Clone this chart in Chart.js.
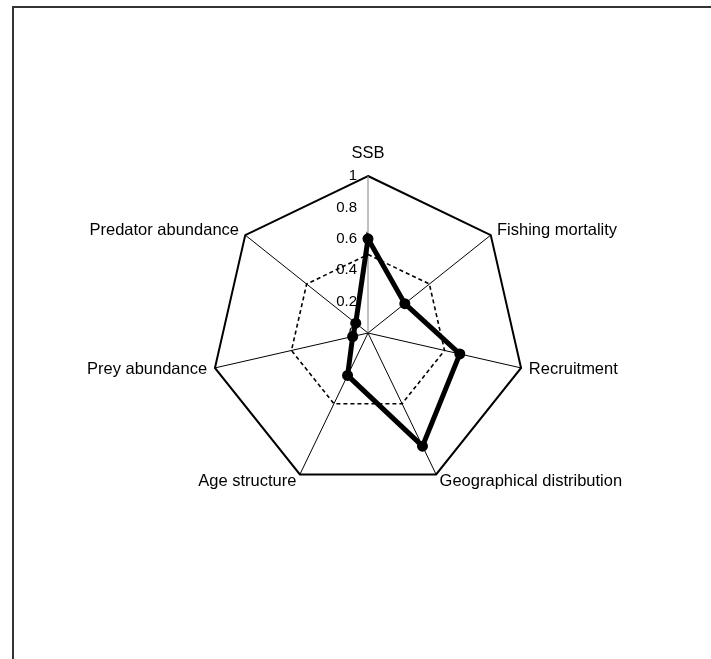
<!DOCTYPE html>
<html lang="en">
<head>
  <meta charset="UTF-8" />
  <title>Stock indicators radar</title>
  <script src="https://cdn.jsdelivr.net/npm/chart.js"></script>
  <style>
    * {
      margin: 0;
      padding: 0;
      box-sizing: border-box;
    }

    body {
      background: #ffffff;
      width: 711px;
      height: 659px;
      overflow: hidden;
      position: relative;
    }

    /* frame: only top and left edges are visible in the shot */
    .frame {
      position: absolute;
      left: 12px;
      top: 6px;
      width: 760px;
      height: 720px;
      border: 2px solid #333;
      pointer-events: none;
    }

    canvas {
      position: absolute;
      left: 0;
      top: 0;
    }
  </style>
</head>
<body>

  <div class="frame"></div>
  <canvas id="radar" width="711" height="659"></canvas>

  <script>
    const labels = ['SSB', 'Fishing mortality', 'Recruitment', 'Geographical distribution',
                    'Age structure', 'Prey abundance', 'Predator abundance'];
    const status = [0.6, 0.3, 0.6, 0.8, 0.3, 0.1, 0.1];
    const reference = [0.5, 0.5, 0.5, 0.5, 0.5, 0.5, 0.5];
    const tickValues = [0, 0.2, 0.4, 0.6, 0.8, 1];
    const tickLabels = ['0', '0.2', '0.4', '0.6', '0.8', '1'];

    const FONT = '"Liberation Sans", Arial, sans-serif';

    // tick labels sit left of the vertical axis, point labels Excel style
    const radarText = {
      id: 'radarText',
      afterDraw(chart) {
        const scale = chart.scales.r;
        const ctx = chart.ctx;
        ctx.save();
        ctx.fillStyle = '#000';
        ctx.textBaseline = 'middle';

        ctx.font = '15px ' + FONT;
        ctx.textAlign = 'right';
        tickValues.forEach((v, i) => {
          const d = scale.getDistanceFromCenterForValue(v);
          ctx.fillText(tickLabels[i], scale.xCenter - 11, scale.yCenter - d);
        });

        ctx.font = '16.5px ' + FONT;
        const outer = scale.getDistanceFromCenterForValue(1);
        labels.forEach((lab, i) => {
          const p = scale.getPointPosition(i, outer + 8);
          let y = p.y;
          if (Math.abs(p.x - scale.xCenter) < 2) {
            ctx.textAlign = 'center';
            y -= 15;
          } else if (p.x > scale.xCenter) {
            ctx.textAlign = 'left';
          } else {
            ctx.textAlign = 'right';
          }
          ctx.fillText(lab, p.x, y);
        });
        ctx.restore();
      }
    };

    const chart = new Chart(document.getElementById('radar'), {
      type: 'radar',
      data: {
        labels: labels,
        datasets: [{
          label: 'Status',
          data: status,
          borderColor: '#000',
          backgroundColor: 'rgba(0,0,0,0)',
          borderWidth: 5,
          pointRadius: 5.5,
          pointBackgroundColor: '#000',
          pointBorderColor: '#000',
          pointBorderWidth: 0,
          fill: false,
          order: 0
        }, {
          label: 'Reference',
          data: reference,
          borderColor: '#000',
          backgroundColor: 'rgba(0,0,0,0)',
          borderWidth: 1.6,
          borderDash: [4, 3],
          pointRadius: 0,
          fill: false,
          order: 1
        }]
      },
      options: {
        responsive: false,
        animation: false,
        layout: {
          padding: { left: 211, right: 186, top: 176, bottom: 169 }
        },
        plugins: {
          legend: { display: false },
          tooltip: { enabled: false }
        },
        scales: {
          r: {
            min: 0,
            max: 1,
            ticks: { stepSize: 0.2, display: false },
            pointLabels: { display: false },
            grid: {
              color: c => c.tick.value === 1 ? '#000' : 'rgba(0,0,0,0)',
              lineWidth: 2
            },
            angleLines: {
              color: c => c.index === 0 ? '#808080' : '#000',
              lineWidth: 1
            }
          }
        }
      },
      plugins: [radarText]
    });
  </script>
</body>
</html>
